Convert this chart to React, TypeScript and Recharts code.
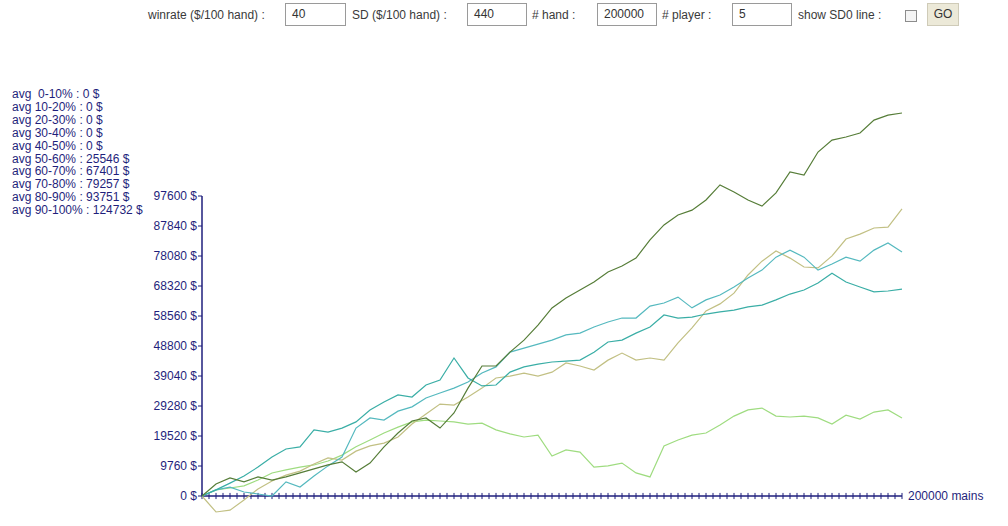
import { LineChart, Line, XAxis, YAxis, ReferenceLine } from "recharts"

// hands played, one sample every 4000 hands
const hands = Array.from({ length: 51 }, (_, i) => i * 4000)

// bankroll of each simulated player ($)
const darkGreen = [
  0, 3900, 5900, 4600, 6200, 5200, 6200, 7500, 8800, 10100, 11100, 7800, 10700, 16000, 20500, 24400,
  25400, 22100, 27000, 35100, 42300, 42300, 46800, 50700, 55600, 61200, 64400, 67000, 69600, 72900,
  74800, 77400, 83300, 88200, 91400, 93000, 96300, 101200, 98900, 96300, 94300, 98600, 105400, 104400,
  111900, 115800, 116800, 118100, 122300, 123900, 124600,
]
const khaki = [
  0, -5200, -4600, -1300, 2300, 4900, 6800, 8100, 10400, 12400, 11700, 14600, 16300, 17200, 19200, 23400,
  26700, 29900, 29600, 32200, 35100, 38400, 39000, 40000, 39000, 40300, 43300, 42300, 41000, 44200, 46500,
  44200, 44900, 44200, 49800, 54700, 60200, 62500, 66000, 71900, 76400, 79700, 77400, 74500, 74200, 78100,
  83600, 85200, 87200, 87500, 93400,
]
const tealUpper = [
  0, 2000, 2900, 1300, 650, 0, 4600, 2900, 6500, 9800, 12700, 22100, 25400, 24700, 27600, 29000, 31900,
  33500, 35100, 37100, 40000, 42000, 46800, 48100, 49400, 50700, 52400, 53000, 55000, 56600, 57900, 57900,
  61800, 62800, 64700, 61200, 63800, 65400, 68000, 70900, 73500, 77700, 80000, 77700, 73500, 75500, 77700,
  76400, 80000, 82300, 79400,
]
const tealLower = [
  0, 2000, 4200, 6500, 9400, 12700, 15300, 16000, 21500, 20800, 22100, 24100, 28000, 30600, 32900, 32200,
  36100, 37700, 44900, 38400, 35800, 36100, 40300, 42000, 42900, 43600, 43900, 44200, 46800, 50100, 50700,
  53000, 55000, 58900, 57900, 58200, 59200, 59900, 60500, 61500, 62100, 63800, 65700, 67000, 69300, 72500,
  69600, 68000, 66400, 66700, 67300,
]
const lightGreen = [
  0, 2000, 2600, 3300, 5200, 7500, 8500, 9400, 10100, 11400, 13300, 16000, 18200, 20500, 22400, 24100,
  24700, 24400, 24100, 23400, 23700, 21500, 20200, 19200, 19800, 13000, 15000, 14300, 9400, 9800, 10700,
  7500, 6200, 16300, 18200, 19800, 20500, 23100, 26000, 28000, 28600, 26000, 25700, 26000, 25400, 23400,
  26300, 25000, 27300, 28000, 25400,
]

const yTicks = [0, 9760, 19520, 29280, 39040, 48800, 58560, 68320, 78080, 87840, 97600]
const xTicks = Array.from({ length: 101 }, (_, i) => i * 2000)

const averages = [
  "avg  0-10% : 0 $",
  "avg 10-20% : 0 $",
  "avg 20-30% : 0 $",
  "avg 30-40% : 0 $",
  "avg 40-50% : 0 $",
  "avg 50-60% : 25546 $",
  "avg 60-70% : 67401 $",
  "avg 70-80% : 79257 $",
  "avg 80-90% : 93751 $",
  "avg 90-100% : 124732 $",
]

const data = hands.map((h, i) => ({
  hands: h,
  darkGreen: darkGreen[i],
  khaki: khaki[i],
  tealUpper: tealUpper[i],
  tealLower: tealLower[i],
  lightGreen: lightGreen[i],
}))

const NAVY = "#1f1f7c"
const FONT = '"Liberation Sans", Arial, sans-serif'

const label = (left: number, text: string) => (
  <div style={{ position: "absolute", left, top: 8, fontSize: 12, color: "#3a3a3a", whiteSpace: "pre" }}>{text}</div>
)

const box = (left: number, width: number, value: string) => (
  <div
    style={{
      position: "absolute",
      left,
      top: 3,
      width,
      height: 21,
      border: "1px solid #9a9a9a",
      background: "#fff",
      fontSize: 12,
      color: "#333",
      lineHeight: "21px",
      paddingLeft: 6,
      boxSizing: "content-box",
    }}
  >
    {value}
  </div>
)

export default function App() {
  return (
    <div style={{ position: "absolute", left: 0, top: 0, width: 1008, height: 526, overflow: "hidden", background: "#fff", fontFamily: FONT }}>
      {label(148, "winrate ($/100 hand) :")}
      {box(285, 53, "40")}
      {label(352, "SD ($/100 hand) :")}
      {box(467, 52, "440")}
      {label(532, "# hand :")}
      {box(597, 52, "200000")}
      {label(662, "# player :")}
      {box(732, 52, "5")}
      {label(798, "show SD0 line :")}
      <div style={{ position: "absolute", left: 905, top: 10, width: 10, height: 10, border: "1px solid #8c8c8c", background: "#f4f4f4" }} />
      <div
        style={{
          position: "absolute",
          left: 927,
          top: 3,
          width: 30,
          height: 21,
          background: "#ece9d8",
          border: "1px solid #cfcbb8",
          fontSize: 12,
          color: "#333",
          lineHeight: "21px",
          textAlign: "center",
        }}
      >
        GO
      </div>

      <div style={{ position: "absolute", left: 12, top: 88, fontSize: 12, lineHeight: "12.9px", color: NAVY, whiteSpace: "pre" }}>
        {averages.map((a) => (
          <div key={a}>{a}</div>
        ))}
      </div>

      <div style={{ position: "absolute", left: 0, top: 0 }}>
        <LineChart width={1008} height={526} data={data} margin={{ top: 76, right: 106, bottom: 0, left: 142 }}>
          <XAxis dataKey="hands" type="number" domain={[0, 200000]} hide />
          <YAxis
            type="number"
            domain={[-9760, 136640]}
            ticks={yTicks}
            interval={0}
            width={60}
            axisLine={false}
            tickLine={{ stroke: NAVY }}
            tickSize={4}
            tickMargin={1}
            tick={{ fill: NAVY, fontSize: 12, fontFamily: FONT }}
            tickFormatter={(v: number) => `${v} $`}
          />
          <ReferenceLine segment={[{ x: 0, y: 0 }, { x: 0, y: 97600 }]} stroke={NAVY} strokeWidth={1.5} />
          <ReferenceLine
            segment={[{ x: 0, y: 0 }, { x: 200000, y: 0 }]}
            stroke={NAVY}
            strokeWidth={1.5}
            label={{ value: "200000 mains", position: "right", offset: 6, fill: NAVY, fontSize: 12, fontFamily: FONT }}
          />
          {xTicks.map((t) => (
            <ReferenceLine key={t} segment={[{ x: t, y: -1000 }, { x: t, y: 1000 }]} stroke={NAVY} strokeWidth={1} />
          ))}
          <Line type="linear" dataKey="lightGreen" stroke="#9fdc80" strokeWidth={1.2} dot={false} isAnimationActive={false} />
          <Line type="linear" dataKey="khaki" stroke="#c2c084" strokeWidth={1.2} dot={false} isAnimationActive={false} />
          <Line type="linear" dataKey="tealUpper" stroke="#55b9bf" strokeWidth={1.2} dot={false} isAnimationActive={false} />
          <Line type="linear" dataKey="tealLower" stroke="#3aaea6" strokeWidth={1.2} dot={false} isAnimationActive={false} />
          <Line type="linear" dataKey="darkGreen" stroke="#567d38" strokeWidth={1.2} dot={false} isAnimationActive={false} />
        </LineChart>
      </div>
    </div>
  )
}
